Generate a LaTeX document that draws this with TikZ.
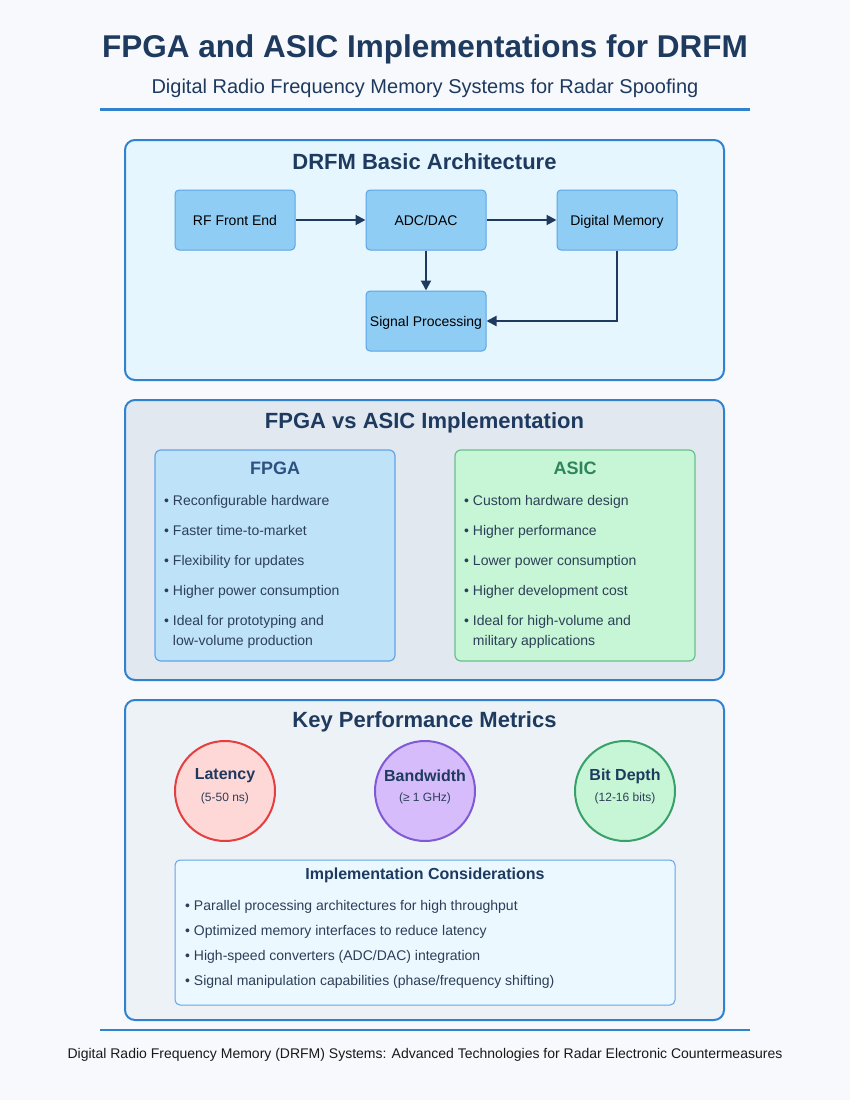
\documentclass[tikz,border=0pt]{standalone}
\usepackage{fontspec}
\setmainfont{Liberation Sans}
\usetikzlibrary{arrows.meta, positioning}

\definecolor{pagebg}{HTML}{F7F9FC}
\definecolor{navy}{HTML}{1E3A5F}
\definecolor{bodytext}{HTML}{2D3E58}
\definecolor{accent}{HTML}{3182CE}
\definecolor{archfill}{HTML}{E6F6FE}
\definecolor{blockfill}{HTML}{90CDF4}
\definecolor{blockline}{HTML}{5BA4E6}
\definecolor{cmpfill}{HTML}{E2E8F0}
\definecolor{fpgafill}{HTML}{BEE3F8}
\definecolor{fpgaline}{HTML}{63A4E6}
\definecolor{fpgatitle}{HTML}{2C5282}
\definecolor{asicfill}{HTML}{C6F6D5}
\definecolor{asicline}{HTML}{68C08A}
\definecolor{asictitle}{HTML}{2F855A}
\definecolor{metricfill}{HTML}{EDF2F7}
\definecolor{notefill}{HTML}{EBF8FF}
\definecolor{latfill}{HTML}{FED7D7}
\definecolor{latline}{HTML}{E53E3E}
\definecolor{bwfill}{HTML}{D6BCFA}
\definecolor{bwline}{HTML}{805AD5}
\definecolor{bitline}{HTML}{38A169}

\begin{document}
\begin{tikzpicture}[x=1pt, y=-1pt]
    % --- Style Definitions ---
    \tikzset{
        % Section panels
        panel style/.style={
            draw=accent,
            line width=2pt,
            rounded corners=10pt,
            minimum width=599pt,
            outer sep=0pt
        },
        % Architecture blocks
        block style/.style={
            draw=blockline,
            fill=blockfill,
            line width=1pt,
            rounded corners=4pt,
            minimum width=120pt,
            minimum height=60pt,
            text height=10pt,
            text depth=0pt,
            font=\fontsize{14}{17}\selectfont,
            text=black
        },
        % Inner cards
        card style/.style={
            line width=1.2pt,
            rounded corners=6pt,
            minimum width=240pt,
            minimum height=211pt,
            outer sep=0pt
        },
        % Metric circles
        metric style/.style={
            circle,
            line width=2pt,
            minimum size=100pt
        },
        % Text styling
        title text/.style={font=\fontsize{31.5}{38}\selectfont\bfseries, text=navy},
        subtitle text/.style={font=\fontsize{20}{24}\selectfont, text=navy},
        section text/.style={font=\fontsize{22}{26}\selectfont\bfseries, text=navy},
        card text/.style={font=\fontsize{18}{21}\selectfont\bfseries},
        item text/.style={font=\fontsize{14}{17}\selectfont, text=bodytext, anchor=base west, inner sep=0pt},
        metric name/.style={font=\fontsize{16}{19}\selectfont\bfseries, text=navy},
        metric value/.style={font=\fontsize{12}{14}\selectfont, text=bodytext},
        footer text/.style={font=\fontsize{14}{17}\selectfont, text=black!90},
        % Arrow styling
        flow arrow/.style={
            -{Triangle[length=10pt, width=10pt]},
            line width=2pt,
            navy
        },
        rule line/.style={accent, line width=3pt}
    }

    % Page background
    \fill[pagebg] (0,0) rectangle (850,1100);
    \useasboundingbox (0,0) rectangle (850,1100);

    % ==========================================
    % HEADER
    % ==========================================
    \node[title text] (title) at (425,49) {FPGA and ASIC Implementations for DRFM};
    \node[subtitle text] (subtitle) at (425,88) {Digital Radio Frequency Memory Systems for Radar Spoofing};
    \coordinate (head_left) at (100,109);
    \coordinate (head_right) at (750,109);
    \draw[rule line] (head_left) -- (head_right);

    % ==========================================
    % SECTION 1: DRFM Basic Architecture
    % ==========================================
    \begin{scope}[local bounding box=archSection]

        % 1. Panel
        \node[panel style, fill=archfill, minimum height=240pt] (arch_panel) at (424.5,260) {};
        \node[section text] (arch_title) at (424.5,162) {DRFM Basic Architecture};

        % 2. Blocks
        \node[block style] (rf_front) at (235,220) {RF Front End};
        \node[block style, right=70pt of rf_front] (adc_dac) {ADC/DAC};
        \node[block style, right=70pt of adc_dac] (dig_mem) {Digital Memory};
        \node[block style, below=40pt of adc_dac] (sig_proc) {Signal Processing};

        % 3. Flow
        \draw[flow arrow] (rf_front) -- (adc_dac);
        \draw[flow arrow] (adc_dac) -- (dig_mem);
        \draw[flow arrow] (adc_dac) -- (sig_proc);
        \draw[flow arrow] (dig_mem.south) |- (sig_proc.east);

    \end{scope}

    % ==========================================
    % SECTION 2: FPGA vs ASIC
    % ==========================================
    \begin{scope}[local bounding box=compareSection]

        % 1. Panel
        \node[panel style, fill=cmpfill, minimum height=280pt] (cmp_panel) at (424.5,540) {};
        \node[section text] (cmp_title) at (424.5,423) {FPGA vs ASIC Implementation};

        % 2. FPGA card
        \node[card style, draw=fpgaline, fill=fpgafill] (fpga_card) at (275,555.5) {};
        \node[card text, text=fpgatitle] (fpga_title) at (275,468) {FPGA};
        \node[item text] (fpga_item1) at (164,505) {• Reconfigurable hardware};
        \node[item text] (fpga_item2) at (164,535) {• Faster time-to-market};
        \node[item text] (fpga_item3) at (164,565) {• Flexibility for updates};
        \node[item text] (fpga_item4) at (164,595) {• Higher power consumption};
        \node[item text] (fpga_item5) at (164,625) {• Ideal for prototyping and};
        \node[item text] (fpga_item5b) at (164,645) {\hphantom{• }low-volume production};

        % 3. ASIC card
        \node[card style, draw=asicline, fill=asicfill] (asic_card) at (575,555.5) {};
        \node[card text, text=asictitle] (asic_title) at (575,468) {ASIC};
        \node[item text] (asic_item1) at (464,505) {• Custom hardware design};
        \node[item text] (asic_item2) at (464,535) {• Higher performance};
        \node[item text] (asic_item3) at (464,565) {• Lower power consumption};
        \node[item text] (asic_item4) at (464,595) {• Higher development cost};
        \node[item text] (asic_item5) at (464,625) {• Ideal for high-volume and};
        \node[item text] (asic_item5b) at (464,645) {\hphantom{• }military applications};

    \end{scope}

    % ==========================================
    % SECTION 3: Key Performance Metrics
    % ==========================================
    \begin{scope}[local bounding box=metricSection]

        % 1. Panel
        \node[panel style, fill=metricfill, minimum height=320pt] (metric_panel) at (424.5,860) {};
        \node[section text] (metric_title) at (424.5,722) {Key Performance Metrics};

        % 2. Metric circles
        \node[metric style, fill=latfill, draw=latline] (latency) at (225,791) {};
        \node[metric name] (latency_name) at (225,776) {Latency};
        \node[metric value] (latency_value) at (225,798) {(5-50 ns)};

        \node[metric style, fill=bwfill, draw=bwline] (bandwidth) at (425,791) {};
        \node[metric name] (bandwidth_name) at (425,776) {Bandwidth};
        \node[metric value] (bandwidth_value) at (425,798) {(≥ 1 GHz)};

        \node[metric style, fill=asicfill, draw=bitline] (bit_depth) at (625,791) {};
        \node[metric name] (bit_depth_name) at (625,776) {Bit Depth};
        \node[metric value] (bit_depth_value) at (625,798) {(12-16 bits)};

        % 3. Considerations
        \node[draw=fpgaline, fill=notefill, line width=1pt, rounded corners=5pt,
              minimum width=500pt, minimum height=145pt] (note_box) at (425,932.5) {};
        \node[metric name] (note_title) at (425,875) {Implementation Considerations};
        \node[item text] (note_item1) at (185,910) {• Parallel processing architectures for high throughput};
        \node[item text] (note_item2) at (185,935) {• Optimized memory interfaces to reduce latency};
        \node[item text] (note_item3) at (185,960) {• High-speed converters (ADC/DAC) integration};
        \node[item text] (note_item4) at (185,985) {• Signal manipulation capabilities (phase/frequency shifting)};

    \end{scope}

    % ==========================================
    % FOOTER
    % ==========================================
    \coordinate (foot_left) at (100,1030);
    \coordinate (foot_right) at (750,1030);
    \draw[accent, line width=2pt] (foot_left) -- (foot_right);
    \node[footer text] (footer) at (425,1055) {Digital Radio Frequency Memory (DRFM) Systems: Advanced Technologies for Radar Electronic Countermeasures};

\end{tikzpicture}
\end{document}
